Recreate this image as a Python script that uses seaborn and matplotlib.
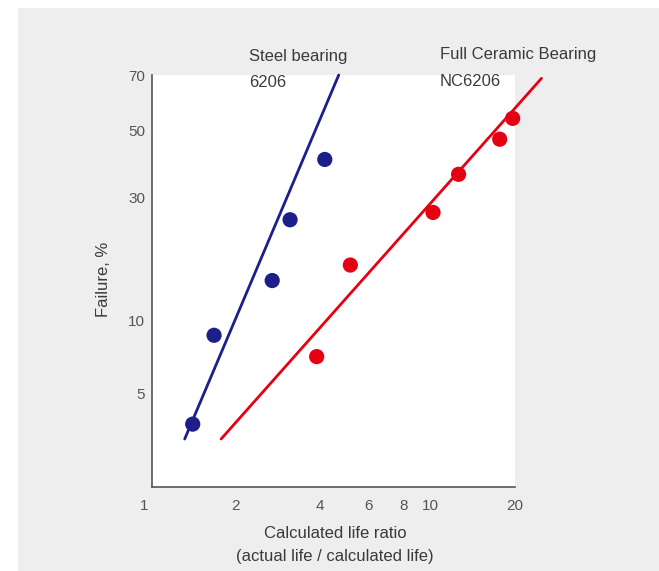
import numpy as np
import pandas as pd
import seaborn as sns
import matplotlib
matplotlib.use("Agg")
import matplotlib.pyplot as plt
from matplotlib.patches import Rectangle
from matplotlib.transforms import ScaledTranslation

# failure data (life ratio, failure %)
steel_ratio = [1.40, 1.67, 2.70, 3.13, 4.17]
steel_fail = [3.7, 8.7, 14.5, 24.9, 40.6]
ceramic_ratio = [3.90, 5.15, 10.2, 12.6, 17.7, 19.7]
ceramic_fail = [7.1, 16.7, 26.5, 36.2, 47.1, 54.3]

# fitted lines (end points)
steel_fit_ratio = [1.31, 4.68]
steel_fit_fail = [3.2, 70.0]
ceramic_fit_ratio = [1.77, 25.0]
ceramic_fit_fail = [3.2, 68.8]

x_major = [1, 2, 4, 6, 8, 10, 20]
x_minor = [3, 5, 7, 9]
y_major = [5, 10, 30, 50, 70]
y_minor = [20, 40, 60]

BLUE = "#1c1f8a"
RED = "#e50012"
TXT = "#3a3a3a"
GRAY_BG = "#eeeeee"

sns.set_style("white")
plt.rcParams["font.family"] = ["Liberation Sans", "DejaVu Sans"]


def weibull(f):
    f = np.clip(np.asarray(f, dtype=float), 1e-6, 100 - 1e-6)
    return np.log(-np.log(1 - f / 100.0))


def weibull_inv(w):
    return 100.0 * (1 - np.exp(-np.exp(w)))


fig = plt.figure(figsize=(6.59, 5.71), dpi=100, facecolor="white")
fig.patches.append(Rectangle((18 / 659, 0), 1, 563 / 571, transform=fig.transFigure,
                             facecolor=GRAY_BG, edgecolor="none", zorder=-10))

ax = fig.add_axes([152 / 659, 84 / 571, 362.5 / 659, 412 / 571])
ax.set_facecolor("white")

ax.set_xscale("log")
ax.set_yscale("function", functions=(weibull, weibull_inv))

steel = pd.DataFrame({"ratio": steel_ratio, "fail": steel_fail})
ceramic = pd.DataFrame({"ratio": ceramic_ratio, "fail": ceramic_fail})
steel_fit = pd.DataFrame({"ratio": steel_fit_ratio, "fail": steel_fit_fail})
ceramic_fit = pd.DataFrame({"ratio": ceramic_fit_ratio, "fail": ceramic_fit_fail})

sns.lineplot(data=steel_fit, x="ratio", y="fail", color=BLUE, lw=2, ax=ax, clip_on=False)
sns.lineplot(data=ceramic_fit, x="ratio", y="fail", color=RED, lw=2, ax=ax, clip_on=False)
sns.scatterplot(data=steel, x="ratio", y="fail", color=BLUE, s=120, edgecolor="none",
                ax=ax, zorder=3, clip_on=False)
sns.scatterplot(data=ceramic, x="ratio", y="fail", color=RED, s=120, edgecolor="none",
                ax=ax, zorder=3, clip_on=False)

ax.set_xlim(1, 20)
ax.set_ylim(2.0, 70)

ax.set_xticks(x_major)
ax.set_xticklabels([str(v) for v in x_major])
ax.set_xticks(x_minor, minor=True)
ax.set_xticklabels([], minor=True)
ax.set_yticks(y_major)
ax.set_yticklabels([str(v) for v in y_major])
ax.set_yticks(y_minor, minor=True)
ax.set_yticklabels([], minor=True)

ax.tick_params(which="both", direction="in", length=8, width=1.2, color="#555555",
               labelcolor="#555555", labelsize=11)
ax.tick_params(axis="x", which="both", pad=9)
ax.tick_params(axis="y", which="both", pad=5)

# the "1" label sits a little left of the axis corner in the original
first = ax.get_xticklabels()[0]
first.set_transform(first.get_transform() + ScaledTranslation(-0.08, 0, fig.dpi_scale_trans))

for side in ["top", "right"]:
    ax.spines[side].set_visible(False)
for side in ["left", "bottom"]:
    ax.spines[side].set_color("#555555")
    ax.spines[side].set_linewidth(1.2)

ax.set_xlabel("")
ax.set_ylabel("")

FS = 12
fig.text(103 / 659, 1 - 279 / 571, "Failure, %", rotation=90, ha="center", va="center",
         fontsize=FS, color=TXT)
fig.text(335 / 659, 1 - 533 / 571, "Calculated life ratio", ha="center", va="center",
         fontsize=FS, color=TXT)
fig.text(335 / 659, 1 - 557 / 571, "(actual life / calculated life)", ha="center",
         va="center", fontsize=FS, color=TXT)

fig.text(249 / 659, 1 - 56 / 571, "Steel bearing", ha="left", va="center", fontsize=FS, color=TXT)
fig.text(249 / 659, 1 - 83 / 571, "6206", ha="left", va="center", fontsize=FS, color=TXT)
fig.text(440 / 659, 1 - 55 / 571, "Full Ceramic Bearing", ha="left", va="center",
         fontsize=FS, color=TXT)
fig.text(440 / 659, 1 - 81 / 571, "NC6206", ha="left", va="center", fontsize=FS, color=TXT)

fig.savefig("out.png", dpi=100, facecolor=fig.get_facecolor())
